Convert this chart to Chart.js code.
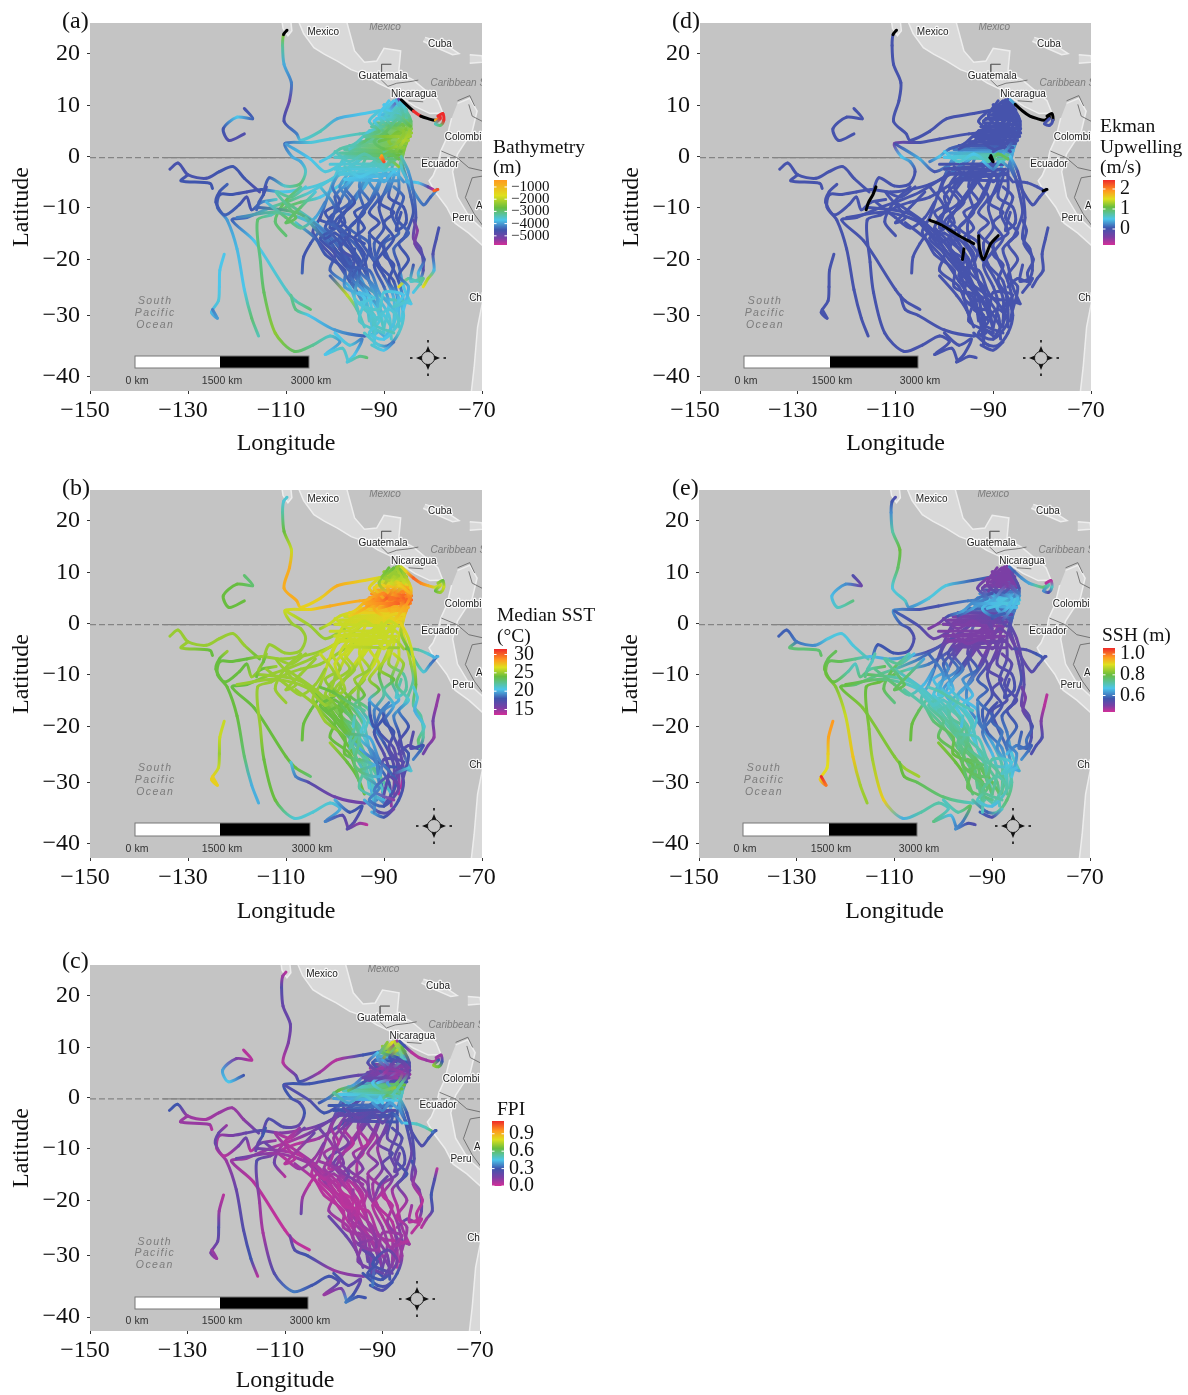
<!DOCTYPE html>
<html>
<head>
<meta charset="utf-8">
<title>Tracks</title>
<script src="https://cdn.jsdelivr.net/npm/chart.js@4/dist/chart.umd.min.js"></script>
<style>
  html, body { margin: 0; padding: 0; background: #fff; }
  body { position: relative; width: 1188px; height: 1395px; overflow: hidden; }
  canvas { position: absolute; }
</style>
</head>
<body>
<script>
const lonTicks = [-150, -130, -110, -90, -70];
const latTicks = [-40, -30, -20, -10, 0, 10, 20];

// tracks as [lon, lat]
const tracks = [
  [[-86,10],[-94,8.5],[-99.5,7.5],[-103,5],[-107,3.2],[-107.8,4.5],[-110.4,7],[-109.3,11],[-108.9,14.5],[-110.4,18],[-110.7,21.5],[-110.5,23.5],[-109.8,24.3]],
  [[-88,5],[-95,4.5],[-101,3.5],[-105,2.8],[-110.2,2.6],[-108.8,0],[-107,-1],[-106,-3],[-107.2,-5.5],[-110.3,-5.8],[-113.4,-4.2],[-114.6,-7]],
  [[-110,2.5],[-105,-.5],[-102,-3],[-98,-1]],
  [[-118.5,9.5],[-116.8,7.5],[-120,7.8],[-122.8,5.5],[-121.6,3.2],[-118.5,4.5]],
  [[-133.7,-2.5],[-132,-1.3],[-130,-3.6],[-126.3,-4.3],[-123.6,-3],[-120.8,-2],[-118.5,-4.3],[-115.4,-7]],
  [[-130,-3.6],[-131.4,-4.8],[-125.5,-5.3],[-125,-6.3]],
  [[-89,5],[-93,1],[-98,-3],[-103,-5.5],[-107,-6.5],[-111,-7],[-115,-6.5],[-118,-7],[-121,-7.5],[-123.5,-7.5],[-124,-10],[-122,-12.5],[-120,-18],[-118.5,-25.5],[-117,-30.5],[-115.6,-33.5]],
  [[-88,3],[-94,0],[-100,-4],[-105,-7],[-110,-9],[-113,-10],[-118,-12],[-121,-12.5],[-116.5,-16.5],[-110,-25.5],[-108,-27.5],[-105,-29]],
  [[-88,2],[-92,-1],[-98,-5],[-103,-8],[-107,-9],[-110,-10],[-113,-11.5],[-115.8,-12.5],[-115.2,-20.5],[-114.5,-26],[-112.2,-33],[-108.3,-36],[-104.5,-35],[-101,-33.5],[-99,-34.5],[-102,-36.5],[-98.5,-35.5],[-97.3,-37.6]],
  [[-109,-26.5],[-108,-29],[-105.4,-30],[-100,-32.5],[-94,-33.5],[-91.5,-33]],
  [[-100,-33],[-97,-35],[-94.5,-34],[-96,-36.5],[-97.5,-37.7],[-95,-36.8],[-93.5,-37]],
  [[-122.6,-19],[-123.5,-22],[-123.6,-25],[-123.8,-27.5],[-125.2,-29.5],[-124,-30.5],[-125,-29]],
  [[-106.7,-22.5],[-106.4,-19.5],[-105,-17],[-103.5,-15]],
  [[-110,-15.5],[-112.2,-12.8],[-110.3,-9],[-107,-6]],
  [[-122,-5.5],[-123.6,-7],[-124.3,-9],[-122.5,-11.5],[-119.5,-9.5],[-118,-8],[-117,-10.5],[-115,-9],[-112,-8.5]],
  [[-86.5,10.5],[-88,7],[-91,4],[-95,2],[-98,0],[-100,-4],[-101.5,-8],[-103,-12],[-104.5,-15],[-100,-20],[-97,-24],[-94,-28],[-92,-32],[-90,-33.5]],
  [[-86.5,10.5],[-87,6],[-90,3],[-93,1],[-95,-3],[-98,-7],[-100,-11],[-102,-14],[-100,-18],[-97,-21],[-96,-25],[-93,-30],[-92,-34]],
  [[-86,10],[-86,6],[-88,3],[-91,0],[-93,-4],[-96,-8],[-98,-11],[-99.5,-14],[-96,-17],[-94,-20],[-93,-24],[-91,-28],[-90,-33]],
  [[-87,10],[-87,5],[-89,2],[-91,-2],[-94,-6],[-97,-10],[-100,-13],[-97,-17],[-94,-22],[-92,-26],[-89,-30],[-88.5,-34]],
  [[-85.5,9],[-85,5],[-87,2],[-89,-1],[-91,-5],[-93,-9],[-95,-12],[-95,-16],[-93,-19],[-90,-23],[-88,-27],[-88,-32]],
  [[-86,10],[-85,6],[-86,2],[-88,-1],[-89,-5],[-91,-10],[-90,-14],[-92,-17],[-91,-21],[-88,-24],[-87,-29],[-87,-32]],
  [[-85.5,9],[-84.8,5],[-86,1],[-87,-3],[-87,-7],[-88.5,-11],[-87,-15],[-90,-17],[-89,-20],[-87,-24],[-86,-28],[-86.5,-31]],
  [[-85,8],[-85,4],[-86.5,0],[-85.5,-4],[-84.5,-8],[-84,-11],[-85,-14],[-86,-16],[-88,-18],[-87,-21],[-86,-25],[-84.5,-28]],
  [[-85,7],[-86,1],[-86.5,-2],[-85,-5],[-82,-9.5],[-80.5,-8],[-79.2,-6.5]],
  [[-85.5,-5],[-83,-5.2],[-81,-6],[-80,-6.5]],
  [[-86.5,0],[-85,-3],[-84,-7],[-83.5,-12],[-84,-16],[-82.5,-18],[-82,-22],[-83,-24],[-85,-23.5],[-87,-25]],
  [[-78.8,-14],[-79.3,-16],[-80,-19],[-79.8,-22],[-81,-23.5],[-82,-25]],
  [[-84,-12.5],[-83.2,-14.5],[-83.7,-17],[-81.8,-20],[-83,-22.5],[-82.5,-24.5]],
  [[-120,-12],[-112,-11],[-105,-13],[-100,-18],[-96,-23],[-92,-28],[-90,-32]],
  [[-110,-9],[-104,-13],[-99,-18],[-94,-25],[-90,-30],[-88.5,-32]],
  [[-116,-10],[-108,-11],[-103,-14],[-97,-20],[-93,-27],[-92,-33]],
  [[-101,-23],[-97.5,-26.5],[-95.5,-29],[-94,-32]],
  [[-104,-14],[-99,-20],[-95,-24],[-90,-27],[-86.5,-27.5],[-84.5,-28]],
  [[-94,-33],[-91,-35],[-89,-35],[-87,-33],[-86,-30],[-87,-27]],
  [[-92.5,-35],[-90,-35.8],[-88,-34.5]],
  [[-88,-4],[-89,-8],[-86,-10],[-85.5,-13],[-87.5,-14.5],[-86.5,-11]],
  [[-97,-3],[-99,-6],[-97,-9],[-101,-12],[-98,-15],[-101,-17]],
  [[-93,-3],[-95,-7],[-94,-11],[-97,-14],[-93,-17],[-94,-21]],
  [[-90,-3],[-92,-8],[-96,-13],[-99,-16],[-95,-20],[-97,-24]],
  [[-99,-3],[-100.5,-6],[-99,-9],[-102,-11],[-100,-14],[-103,-16],[-100,-19],[-101,-22],[-97,-25],[-95,-30]],
  [[-96,-3],[-98,-6],[-96,-9],[-99,-12],[-97,-15],[-99,-18],[-96,-20],[-97,-23],[-94,-26],[-93,-31]],
  [[-94,-2],[-95,-6],[-93,-9],[-96,-11],[-94,-14],[-96,-16],[-94,-19],[-95,-22],[-92,-25],[-91,-30]],
  [[-92,-2],[-93,-5],[-91,-8],[-93,-11],[-91,-13],[-93,-15],[-90,-18],[-92,-21],[-90,-25],[-89,-28],[-90,-32]],
  [[-90,-2],[-89,-6],[-91,-9],[-88,-11],[-90,-13],[-88,-16],[-90,-19],[-88,-21],[-89,-24],[-87,-27],[-88,-31]],
  [[-88,-6],[-86,-8],[-87.5,-12],[-85,-15],[-87,-17],[-85,-20],[-87,-23],[-85,-25],[-86,-29]],
  [[-108,-13],[-104,-16],[-102,-19],[-98,-22],[-98,-25],[-94,-27],[-95,-31],[-90,-33]],
  [[-106,-12],[-102,-16],[-100,-15],[-97,-18],[-95,-22],[-96,-27],[-92,-30],[-92,-35]],
  [[-102,-14],[-99,-17],[-98,-21],[-93,-22],[-91,-26],[-87.5,-30],[-90,-34]],
  [[-114,-9],[-110,-12],[-107,-14],[-104,-12],[-102,-9]],
  [[-106,-6],[-109,-8],[-112,-7],[-108,-12],[-110,-13],[-107,-10],[-104,-7]],
  [[-103,-6],[-100,-10],[-101,-14],[-98,-13],[-100,-8],[-97,-5]],
  [[-94,-29],[-91,-31],[-93,-33],[-90,-34],[-87,-31],[-89,-29],[-92,-31.5],[-88,-33]],
  [[-95,-26],[-92,-27],[-95,-28],[-91,-29],[-90,-26],[-86,-26.5],[-88,-28.5],[-85,-27.5]],
  [[-84,-21],[-84.5,-24],[-82,-23.5],[-84,-26]],
  [[-101,-1.5],[-88,-1.5],[-100,-2.5],[-87.5,-2.5],[-99,-3.5],[-87,-3.5],[-98,-4.5],[-87,-4.8]],
  [[-95,3],[-85.5,2.6],[-97,2.2],[-86,1.8],[-98,1.4],[-86.5,1],[-99,.7],[-87,.3],[-100,-.1],[-87.5,-.5]],
  [[-92,6.7],[-84.7,6.3],[-92.5,5.9],[-84.4,5.5],[-93,5.1],[-84.4,4.7],[-92.5,4.3],[-84.6,4],[-93.5,3.6],[-85,3.2]],
  [[-88.5,10.6],[-86.5,10.2],[-89.5,9.9],[-86,9.4],[-90.5,9],[-85.6,8.7],[-91,8.2],[-85.3,7.8],[-91.5,7.5],[-85,7.1]],
  [[-87.5,11.2],[-85.8,10],[-88,10.9],[-85.4,9.2],[-90,10.2],[-84.9,8]],
  [[-87,11.3],[-89,9],[-91,6],[-92,4.5],[-94,3],[-97,1.5]],
  [[-87.5,11],[-86,8],[-88,6],[-90,7.5],[-92,7],[-89,4]],
  [[-86,10],[-84.5,7],[-85,4],[-87,5],[-89,3],[-86.5,1]],
  [[-88,11],[-90,9],[-87,8],[-85,6],[-88,4],[-91,3]],
  [[-89,11],[-91,8],[-89,6],[-86,5],[-87,3],[-90,1]],
  [[-87,9.5],[-88.5,8],[-86,7],[-84.8,5],[-86,3],[-88,.5]],
  [[-90,6],[-93,5],[-96,2.5],[-99,1.5],[-101,0],[-103,-1]],
  [[-84.6,6],[-87,7.5],[-89.5,5],[-92,3],[-90,1.5],[-87.5,2]],
  [[-100,1],[-97,-1],[-94,.5],[-91,-1],[-89,.5],[-87,-.5]],
  [[-92,-1],[-90,-2.5],[-88.5,-1],[-87,-2]],
  [[-98,-2],[-95,-4],[-92,-3],[-90,-5],[-88,-3],[-86,-5]],
  [[-91,9],[-93,7],[-91,5],[-94,4],[-90,4],[-87,4]],
  [[-114,-6],[-114.6,-7.5],[-115.5,-9],[-116,-10.5]],
  [[-103,-12.5],[-100.5,-13.5],[-97,-15.5],[-94,-17]],
  [[-93,-15.5],[-92.8,-18],[-92,-20],[-90.5,-17],[-89,-15.5]],
  [[-96,-18],[-96.3,-20]],
  [[-79.8,-6.8],[-79,-6.5]],
  [[-90.7,-.2],[-90,-1],[-90.5,.2]],
  [[-86.5,11.2],[-85.5,10.3],[-84,9],[-82.5,8],[-81,7.5],[-79.5,7.2],[-78.5,7.8]],
  [[-79,8],[-78,8.5],[-77.8,7.2],[-78.5,6.2],[-79.5,6.5],[-78.5,7.5]]
];

// depth in km, null = no data (drawn black)
const depthValues = [
  [3.6,3.7,3.9,3.4,3.6,4.2,4.6,4.9,4.2,3.9,3.2,2.5,null],
  [2.9,3.4,3.6,3.6,4.3,3.9,3.9,3.5,3.0,3.5,4.4,4.6],
  [4,3.7,3.6,3.6],
  [4.6,4.4,3.7,4.5,4.7,4.7],
  [4.6,4.6,4.6,4.6,4.5,4.5,4.5,4.7],
  [4.6,4.5,4.5,4.5],
  [2.7,3.3,3.5,3.6,3.6,3.7,4.5,4.6,4.5,4.5,4.4,4.0,3.8,3.7,3.0,3.4],
  [2.6,3.5,3.6,3.6,3.0,3.4,4.3,4.4,3.7,3.5,3.4,3.0],
  [2.6,3.4,3.6,3.7,3.0,3.0,3.4,3.0,3.1,2.9,2.4,2.9,3.2,3.5,4.0,3.7,3.5,3.6],
  [3.2,3.1,3.7,4,4.4,3.8],
  [3.7,3.6,4.2,3.7,3.6,3.2,3.0],
  [3.7,3.7,3.7,3.6,3.8,4,4.2],
  [4.4,4.5,4.5,4.3],
  [3.0,3.0,2.9,3.2],
  [4.4,4.5,4.5,4.4,4.5,4.6,4.5,4.2,3.5],
  [3.7,3.5,3.0,3.3,3.5,3.6,4.1,4.5,4.6,4.6,4.4,3.5,3.5,3.9],
  [3.6,2.8,2.7,3.0,3.6,4.2,4.5,4.5,4.5,4.5,4.3,3.6,3.8],
  [3.6,2.6,2.5,3.2,3.7,4.3,4.5,4.5,4.4,4.5,4.4,3.6,3.7],
  [3.6,2.7,2.6,3.5,3.9,4.4,4.5,4.5,4.5,3.9,3.6,3.5],
  [3.4,2.4,2.6,3.3,4.0,4.4,4.5,4.4,4.5,4.5,3.8,3.5],
  [3.5,2.4,2.4,3.4,4.2,4.5,4.5,4.4,4.5,4.5,3.8,3.5],
  [3.4,2.3,2.5,3.8,4.4,4.5,4.4,4.4,4.5,4.5,3.7,3.6],
  [3.2,2.4,2.8,4.1,4.4,4.5,4.5,4.4,4.4,4.5,3.7,3.5],
  [2.9,2.5,3.5,3.9,4.3,4.4,4.0],
  [3.9,3.7,4.8,5.6],
  [3.3,4,4.3,4.6,5.1,4.8,4.7,3.6,3.3,1.5],
  [4.6,4.6,4.7,3.8,2.2,1.6],
  [4.7,5.3,5.1,4.6,3.8,3.0],
  [4.2,3.2,3.8,4.5,4.5,3.7,3.4],
  [3,3.8,4.5,4.3,3.6,3.5],
  [4.4,3.0,4.2,4.5,3.7,3.4],
  [4.4,2.0,3.3,3.5],
  [4.3,4.5,4.3,3.5,3.4,3.7],
  [3.5,3.6,4.3,3.5,3.6,3.9],
  [3.5,3.7,4.3],
  [4.0,4.5,4.5,4.5,4.5,4.5],
  [3.6,4.1,4.4,4.5,4.4,4.5],
  [3.6,4.3,4.5,4.4,4.4,4.5],
  [3.7,4.4,4.5,4.4,4.5,4.4],
  [3.6,4.2,4.5,4.5,4.4,4.5,4.6,4.4,3.8,3.4],
  [3.6,4.2,4.5,4.5,4.5,4.6,4.6,4.4,3.9,3.5],
  [3.6,4.2,4.4,4.5,4.5,4.5,4.5,4.4,4.1,3.6],
  [3.6,4.0,4.4,4.5,4.5,4.5,4.5,4.5,4.4,3.7,3.5],
  [3.5,4.2,4.5,4.5,4.5,4.5,4.5,4.5,4.5,3.8,3.6],
  [4.2,4.4,4.5,4.4,4.5,4.5,4.5,3.9,3.7],
  [3.5,4.4,4.5,4.5,4.0,3.7,3.5,3.5],
  [3.3,4.5,4.5,4.5,4.5,3.6,3.5,3.6],
  [4.4,4.5,4.5,4.4,4,3.6,3.8],
  [3.8,3,3.2,3.9,4.2],
  [3.6,3.1,3.4,2.9,2.9,3,3.6],
  [3.6,4.4,4.5,4.5,4.4,3.8],
  [3.5,3.6,3.6,3.7,3.5,3.6,3.5,3.4],
  [3.8,3.6,3.6,3.5,3.6,3.7,3.5,3.6],
  [4.5,3.5,3.2,3.7],
  [3.6,3.4,3.6,3.6,3.6,3.9,3.7,4.1],
  [3.3,2.4,3.3,2.4,3.3,2.6,3.3,2.7,3.5,3.0],
  [3.2,2.6,3.2,2.4,3.3,2.3,3.2,2.3,3.3,2.2],
  [4.0,3.7,3.8,3.7,3.7,3.5,3.8,3.3,3.7,3.1],
  [3.9,3.5,3.8,3.3,3.7,3.2],
  [5,3.7,3.2,3.0,3.0,3.5],
  [3.8,3.2,2.9,3.6,3.7,2.7],
  [3.6,3.0,2.2,2.6,2.4,2.7],
  [3.7,3.6,3.3,2.5,2.5,2.8],
  [3.7,3.7,3.0,2.4,2.3,3.2],
  [3.4,3.5,3.1,2.3,2.1,2.8],
  [3.2,3.6,3.4,3.3,3.6,3.7],
  [2.7,3.3,2.9,3.0,2.8,2.3],
  [3.4,3.5,3.3,3.3,2.9,2.8],
  [3.4,3.5,3.1,2.4],
  [3.5,3.7,3.6,3.9,3.7,4.1],
  [3.6,3.6,3.0,3.3,2.5,2.3],
  [4.6,4.5,4.4,4.4],
  [4.5,4.4,4.5,4.5],
  [4.4,4.5,4.4,4.5,4.4],
  [4.5,4.5],
  [.3,.2],
  [.4,.2,.5],
  [5,null,.1,.1,null,.8,.1],
  [.1,.1,.1,3.0,3.4,.1]
];

const sstValues = [
  [26,27,28,27,27,28,28,28,26,24,22,21,21],
  [29,28,28,27,26,25,25,25,25,25,25,25],
  [26,25,25,25],
  [23,23,24,24,24,24],
  [25,25,25,25,25,25,25,24],
  [25,25,24,24],
  [29,26,25,25,25,25,25,24,24,24,24,24,24,23,20,20],
  [28,26,26,25,25,25,24,24,24,24,24,23],
  [28,26,25,25,25,25,25,25,25,24,24,21,21,21,20,19,17,16],
  [21,19,17,16,16,19],
  [20,18,18,17,17,15,14],
  [26,26,25,26,27,27,27],
  [24,24,24,24],
  [25,25,25,25],
  [25,24,24,24,24,24,25,24,25],
  [25,28,29,27,26,26,26,25,25,24,24,23,21,19],
  [25,29,28,27,26,26,25,25,24,23,22,20,20],
  [25,29,28,26,26,26,25,25,23,22,20,19,18],
  [25,29,27,26,26,25,25,24,21,19,18,15],
  [25,29,27,26,26,25,25,23,20,18,17,15],
  [25,29,28,26,26,24,22,19,18,17,16,14],
  [25,29,27,26,26,23,20,19,18,17,16,14],
  [26,29,27,26,25,22,22,21,19,18,17,21],
  [29,27,25,24,21,19,18],
  [24,22,21,20],
  [27,26,26,24,22,22,22,18,17,17],
  [15,15,16,15,16,16],
  [21,21,20,21,23,22],
  [25,25,25,24,24,22,21],
  [25,25,24,23,22,20],
  [25,25,25,23,22,21],
  [25,24,24,24],
  [24,24,20,18,18,21],
  [20,17,17,18,17,17],
  [20,18,16],
  [26,25,22,22,21,22],
  [26,26,25,25,24,24],
  [26,26,25,24,22,21],
  [26,26,25,24,22,22],
  [26,26,25,25,24,24,24,24,24,23],
  [26,26,25,25,24,24,22,22,22,21],
  [26,26,25,25,24,22,21,21,19,19],
  [26,26,26,25,24,20,18,18,17,17,17],
  [26,26,25,24,22,20,18,18,17,17,16],
  [26,25,23,21,19,18,17,18,17],
  [25,25,25,24,24,22,22,20],
  [25,25,24,23,22,23,21,19],
  [25,24,24,20,19,18,17],
  [25,25,25,25,25],
  [25,25,25,25,25,25,25],
  [26,25,25,25,26,26],
  [22,19,19,18,16,17,19,15],
  [23,20,23,20,17,17,17,21],
  [17,17,18,19],
  [26,26,26,26,26,26,26,25],
  [27,28,27,27,26,27,26,27,26,26],
  [28,29,29,30,29,30,29,29,28,28],
  [24,25,25,25,25,26,26,27,27,28],
  [24,25,24,25,25,26],
  [25,25,28,29,28,27],
  [25,26,29,27,27,29],
  [25,27,30,30,28,27],
  [24,25,27,29,30,28],
  [24,25,28,30,28,27],
  [25,26,28,29,28,27],
  [29,28,27,26,26,25],
  [28,27,30,28,27,27],
  [26,26,26,26,26,26],
  [26,26,26,26],
  [26,26,26,26,26,25],
  [26,27,29,28,29,30],
  [25,24,25,24],
  [24,24,23,22],
  [19,18,18,19,19],
  [22,21],
  [20,20],
  [26,26,26],
  [26,27,30,29,28,26,26],
  [25,24,26,25,24,26]
];

const fpiValues = [
  [.3,.3,.05,.1,.3,.2,.05,.15,.2,.2,.25,.1,.05],
  [.2,.2,.3,.3,.3,.3,.25,.3,.2,.25,.25,.2],
  [.25,.25,.3,.25],
  [.05,.05,.15,.4,.45,.3],
  [.3,.3,.1,.08,.1,.1,.12,.2],
  [.1,.1,.1,.05],
  [.15,.3,.3,.2,.1,.15,.25,.2,.15,.1,.05,.1,.2,.25,.3,.05],
  [.5,.25,.2,.15,.05,.1,.1,.1,.05,.03,.05,.03],
  [.4,.3,.3,.1,.05,.05,.15,.25,.1,.08,.25,.35,.3,.3,.25,.1,.15,.4],
  [.15,.25,.3,.1,.15,.25],
  [.3,.25,.2,.3,.35,.3,.3],
  [.05,.1,.25,.2,.15,.1,.1],
  [.2,.1,.05,.05],
  [.05,.2,.05,.1],
  [.1,.2,.2,.05,.15,.2,.05,.2,.1],
  [.6,.25,.15,.2,.35,.2,.1,.1,.05,.04,.05,.1,.3,.3],
  [.55,.2,.5,.4,.2,.1,.05,.1,.05,.05,.08,.2,.3],
  [.5,.2,.55,.35,.2,.08,.1,.15,.05,.05,.1,.1,.25],
  [.6,.15,.5,.3,.15,.1,.2,.05,.05,.1,.15,.3],
  [.5,.15,.55,.35,.15,.1,.05,.1,.1,.05,.08,.1],
  [.55,.2,.55,.45,.2,.1,.15,.1,.05,.05,.1,.05],
  [.5,.2,.5,.3,.2,.2,.2,.1,.05,.1,.2,.05],
  [.4,.2,.5,.3,.25,.2,.2,.25,.1,.05,.1,.05],
  [.2,.5,.4,.3,.25,.3,.3],
  [.45,.5,.5,.6],
  [.5,.3,.25,.25,.15,.15,.2,.05,.2,.1],
  [.05,.25,.3,.25,.1,.05],
  [.3,.15,.1,.05,.05,.05],
  [.2,.1,.1,.05,.05,.1,.15],
  [.05,.1,.05,.05,.1,.2],
  [.2,.05,.08,.05,.08,.2],
  [.2,.2,.15,.2],
  [.15,.05,.1,.08,.05,.1],
  [.3,.3,.25,.3,.1,.1],
  [.3,.25,.3],
  [.3,.2,.25,.25,.2,.2],
  [.2,.1,.15,.2,.1,.05],
  [.25,.1,.05,.15,.1,.05],
  [.3,.08,.15,.1,.05,.08],
  [.2,.1,.05,.1,.15,.05,.05,.1,.08,.15],
  [.25,.1,.05,.1,.2,.05,.03,.08,.1,.2],
  [.3,.1,.05,.1,.15,.1,.05,.05,.1,.15],
  [.3,.2,.1,.1,.15,.1,.08,.05,.1,.1,.2],
  [.3,.2,.15,.25,.2,.15,.05,.05,.1,.15,.1],
  [.25,.25,.2,.3,.2,.1,.05,.1,.1],
  [.1,.05,.05,.05,.08,.1,.15,.2],
  [.1,.05,.1,.05,.05,.1,.2,.35],
  [.1,.05,.04,.05,.08,.1,.25],
  [.2,.05,.1,.1,.15],
  [.2,.05,.1,.05,.05,.1,.2],
  [.2,.1,.05,.15,.1,.2],
  [.2,.25,.3,.3,.15,.2,.3,.2],
  [.1,.1,.15,.1,.1,.1,.1,.05],
  [.1,.05,.05,.05],
  [.3,.35,.3,.25,.2,.3,.2,.3],
  [.4,.65,.45,.65,.5,.6,.45,.5,.4,.45],
  [.15,.15,.1,.2,.15,.1,.15,.2,.2,.3],
  [.8,.7,.65,.75,.6,.7,.4,.5,.3,.3],
  [.8,.6,.8,.6,.7,.4],
  [.1,.7,.2,.15,.3,.6],
  [.75,.5,.15,.4,.3,.15],
  [.65,.25,.2,.1,.4,.55],
  [.8,.6,.3,.15,.1,.45],
  [.7,.4,.15,.1,.6,.55],
  [.75,.3,.2,.15,.55,.5],
  [.1,.2,.4,.65,.35,.3],
  [.15,.25,.1,.45,.55,.7],
  [.55,.4,.5,.45,.6,.45],
  [.4,.35,.4,.4],
  [.25,.2,.25,.2,.3,.4],
  [.45,.25,.15,.2,.2,.1],
  [.3,.3,.2,.2],
  [.1,.1,.15,.1],
  [.1,.15,.1,.2,.2],
  [.1,.05],
  [.35,.3],
  [.45,.45,.45],
  [.3,.3,.05,.05,.1,.05,.1],
  [.1,.1,.3,.65,.7,.3]
];

const ekmanValues = [
  [0,0,0,0,0,0,0,0,0,0,0,0,null],
  [0,0,0,0,-.3,.5,.3,0,0,0,0,0],
  [0,.4,0,.3],
  [0,0,0,0,0,0],
  [0,0,0,0,0,0,0,0],
  [0,0,0,0],
  [0,.3,0,0,0,0,0,0,0,0,0,0,0,0,0,0],
  [0,.5,0,0,0,0,0,0,0,0,0,0],
  [0,.4,0,0,0,0,0,0,0,0,0,0,0,0,0,0,0,0],
  [0,0,0,0,0,0],
  [0,0,0,0,0,0,0],
  [0,0,0,0,0,0,0],
  [0,0,0,0],
  [0,0,0,0],
  [0,0,0,0,0,0,0,0,0],
  [0,0,0,0,.4,0,0,0,0,0,0,0,0,0],
  [0,0,0,.3,0,0,0,0,0,0,0,0,0],
  [0,0,0,.5,0,0,0,0,0,0,0,0,0],
  [0,0,0,0,0,0,0,0,0,0,0,0],
  [0,0,0,.4,0,0,0,0,0,0,0,0],
  [0,0,0,.5,0,0,0,0,0,0,0,0],
  [0,0,.4,0,0,0,0,0,0,0,0,0],
  [0,0,.6,0,0,0,0,0,0,0,0,0],
  [0,.4,.2,0,0,0,0],
  [0,0,0,0],
  [.5,0,0,0,0,0,0,0,0,0],
  [0,0,0,0,0,0],
  [0,0,0,0,0,0],
  [0,0,0,0,0,0,0],
  [0,0,0,0,0,0],
  [0,0,0,0,0,0],
  [0,0,0,0],
  [0,0,0,0,0,0],
  [0,0,0,0,0,0],
  [0,0,0],
  [0,0,0,0,0,0],
  [0,0,0,0,0,0],
  [0,0,0,0,0,0],
  [0,0,0,0,0,0],
  [0,0,0,0,0,0,0,0,0,0],
  [0,0,0,0,0,0,0,0,0,0],
  [0,0,0,0,0,0,0,0,0,0],
  [0,0,0,0,0,0,0,0,0,0,0],
  [0,0,0,0,0,0,0,0,0,0,0],
  [0,0,0,0,0,0,0,0,0],
  [0,0,0,0,0,0,0,0],
  [0,0,0,0,0,0,0,0],
  [0,0,0,0,0,0,0],
  [0,0,0,0,0],
  [0,0,0,0,0,0,0],
  [0,0,0,0,0,0],
  [0,0,0,0,0,0,0,0],
  [0,0,0,0,0,0,0,0],
  [0,0,0,0],
  [0,0,0,0,0,0,0,0],
  [0,0,0,.1,.2,.3,.4,.8,.5,.8],
  [0,0,0,0,0,0,0,0,0,0],
  [0,0,0,0,0,0,0,0,0,0],
  [0,0,0,0,0,0],
  [0,0,0,0,0,0],
  [0,0,0,0,0,0],
  [0,0,0,0,0,0],
  [0,0,0,0,0,0],
  [0,0,0,0,0,0],
  [0,0,0,0,0,.4],
  [0,0,0,.1,.5,.2],
  [0,0,0,0,0,0],
  [.5,.6,.5,.7,1,1],
  [.5,.2,.6,.2],
  [0,0,0,0,0,0],
  [0,0,0,0,0,0],
  [null,null,null,null],
  [null,null,null,null],
  [null,null,null,null,null],
  [null,null],
  [null,null],
  [null,null,null],
  [.4,.3,null,null,null,null,0],
  [0,null,0,0,0,0]
];

const sshValues = [
  [.58,.58,.68,.68,.62,.7,.68,.77,.8,.72,.62,.57,.55],
  [.66,.6,.56,.56,.62,.58,.56,.55,.56,.57,.57,.62],
  [.58,.55,.52,.52],
  [.55,.52,.62,.66,.7,.75],
  [.58,.58,.6,.62,.68,.68,.68,.72],
  [.6,.76,.76,.77],
  [.56,.5,.52,.55,.62,.64,.66,.74,.78,.78,.82,.82,.88,.93,.85,.84],
  [.55,.52,.55,.6,.72,.74,.76,.8,.82,.82,.84,.85],
  [.55,.5,.54,.6,.7,.78,.8,.8,.82,.85,.92,.65,.72,.72,.7,.75,.66,.6],
  [.8,.8,.78,.76,.7,.72],
  [.7,.72,.78,.6,.62,.56,.55],
  [.97,.96,.92,.9,.92,1,1.06],
  [.8,.8,.78,.72],
  [.75,.78,.78,.7],
  [.78,.78,.8,.8,.72,.7,.75,.72,.78],
  [.52,.5,.6,.62,.52,.52,.58,.64,.72,.74,.76,.75,.74,.72],
  [.52,.62,.66,.6,.5,.54,.62,.68,.72,.74,.75,.76,.7],
  [.52,.64,.66,.52,.5,.56,.62,.66,.7,.7,.7,.72,.7],
  [.52,.64,.6,.5,.52,.58,.64,.68,.68,.7,.75,.7],
  [.52,.64,.62,.5,.5,.54,.6,.64,.6,.64,.72,.76],
  [.52,.62,.6,.5,.52,.55,.56,.58,.58,.62,.7,.74],
  [.52,.66,.58,.52,.54,.56,.55,.56,.56,.6,.68,.72],
  [.52,.64,.55,.52,.54,.56,.55,.56,.58,.6,.68,.72],
  [.66,.58,.52,.52,.54,.55,.58],
  [.55,.55,.57,.58],
  [.55,.52,.54,.54,.52,.54,.55,.58,.6,.66],
  [.46,.46,.5,.55,.56,.55],
  [.52,.5,.52,.56,.6,.56],
  [.8,.75,.68,.72,.76,.78,.76],
  [.72,.66,.72,.76,.78,.76],
  [.78,.7,.7,.72,.78,.74],
  [.82,.8,.8,.75],
  [.7,.72,.74,.72,.66,.64],
  [.72,.58,.72,.76,.72,.7],
  [.58,.55,.7],
  [.52,.54,.55,.56,.56,.55],
  [.5,.56,.6,.66,.7,.72],
  [.5,.55,.6,.66,.66,.7],
  [.5,.54,.64,.7,.72,.74],
  [.5,.56,.62,.66,.7,.72,.74,.78,.78,.76],
  [.5,.54,.6,.66,.7,.72,.74,.74,.76,.74],
  [.5,.54,.58,.62,.66,.68,.7,.72,.72,.74],
  [.5,.52,.54,.58,.58,.6,.58,.6,.66,.72,.74],
  [.5,.52,.54,.54,.55,.56,.58,.6,.62,.68,.72],
  [.52,.54,.55,.55,.56,.58,.6,.62,.68],
  [.72,.72,.76,.78,.8,.78,.78,.74],
  [.7,.7,.7,.72,.74,.78,.78,.7],
  [.68,.72,.74,.7,.72,.74,.7],
  [.74,.76,.72,.66,.62],
  [.66,.74,.72,.78,.78,.76,.64],
  [.58,.62,.68,.66,.58,.52],
  [.76,.76,.7,.66,.72,.72,.74,.72],
  [.78,.76,.78,.76,.72,.68,.7,.66],
  [.58,.6,.58,.62],
  [.5,.5,.5,.5,.5,.52,.52,.52],
  [.58,.6,.52,.54,.5,.54,.5,.52,.5,.5],
  [.56,.6,.62,.64,.66,.68,.66,.68,.62,.66],
  [.5,.5,.5,.5,.5,.5,.5,.5,.5,.5],
  [.5,.5,.5,.5,.5,.5],
  [.5,.5,.52,.62,.64,.56],
  [.5,.5,.58,.5,.52,.66],
  [.52,.56,.68,.68,.66,.58],
  [.5,.5,.5,.6,.68,.66],
  [.5,.5,.56,.66,.66,.56],
  [.5,.5,.52,.66,.66,.54],
  [.56,.6,.64,.56,.5,.5],
  [.6,.5,.64,.66,.58,.58],
  [.52,.5,.5,.5,.52,.54],
  [.5,.5,.52,.52],
  [.5,.5,.5,.52,.52,.52],
  [.5,.52,.6,.62,.66,.68],
  [.72,.7,.72,.75],
  [.7,.72,.72,.7],
  [.62,.6,.6,.56,.56],
  [.7,.66],
  [.56,.56],
  [.52,.52,.52],
  [.6,.58,.62,.64,.72,.76,.7],
  [.46,.46,.7,.55,.62,.72]
];

// colour scales, high to low
const rainbow = ['#ee2a2a', '#ff9a1f', '#dfe01e', '#68bd3f', '#4cc6ea', '#3f55ad', '#7b3fa5', '#d22f98'];
const bathyStops = [-.1, -.43, -1.7, -2.7, -3.7, -4.5, -5.2, -5.75];
const sstStops = [31.5, 28.5, 26.5, 24, 20.5, 18, 15.5, 13.5];
const fpiStops = [1.12, .95, .8, .65, .45, .3, .15, 0];
const ekmanStops = [2.45, 1.9, 1.5, 1.1, .5, .05, -.4, -.8];
const sshStops = [1.06, .97, .9, .8, .67, .57, .5, .44];

// land as [lon, lat] outlines
const landRelief = [
  [[-110.8,25.8],[-110.6,24.6],[-109.6,23.3],[-108.8,24.2],[-109,25.8]],
  [[-107.4,25.8],[-106.4,23.7],[-104.3,21.1],[-102.2,19.9],[-99.5,18.6],[-96.7,17],[-94,16.1],[-91.2,14.4],[-88.5,13.2],[-86.7,11.8],[-83.7,9.9],[-80.6,8.5],[-78,8.6],[-79,11],[-84,15],[-87,16.5],[-86.6,20.5],[-90,21],[-91.5,18.6],[-94,18.4],[-96,20.5],[-97.6,25.8]],
  [[-76.2,7.6],[-77.2,3.7],[-78.4,1.1],[-79,-1.5],[-80,-3.8],[-80.8,-4.8],[-79.7,-6.8],[-77.2,-10],[-75.5,-13.1],[-72.7,-15],[-69.5,-17.7],[-69,-15],[-72.5,-12],[-75,-8],[-76,-3],[-75,.5],[-72,5],[-71,9],[-72.5,11.5],[-75,10.5]],
  [[-69.8,-27.3],[-70.9,-32],[-71.6,-38.5],[-72.3,-43],[-69.9,-43],[-69.4,-33],[-69.4,-26]],
  [[-81.6,23],[-78,22],[-74.7,20],[-76,19.8],[-79,21],[-82,22.3]],
  [[-72.5,19.8],[-70,19.6],[-69.8,18.4],[-72.5,18.2]]
];
const borderLines = [
  [[-90.5,18],[-88.5,18],[-90.5,18],[-90.5,15],[-89.2,13.8],[-87.4,14.4],[-84.7,14.7],[-83,15]],
  [[-85,11],[-82,10.8]],
  [[-78.3,1.1],[-75.1,-.2],[-72.7,-2.2],[-69.5,-2.9]],
  [[-69.5,-3.8],[-72,-4.2],[-73.4,-8.1],[-71.6,-11.3],[-69.5,-14]],
  [[-72.7,10.3],[-72,8],[-70,7]],
  [[-75,11],[-72.5,12],[-71.5,10]]
];
const equatorSolid = [[-135,-.2],[-90,-.2]];
const equatorDashed = [[-150,-.2],[-70,-.2]];

// basemap names with [lon, lat]
const placeNames = ['Mexico', 'Cuba', 'Guatemala', 'Nicaragua', 'Colombia', 'Ecuador', 'Peru', 'Chile', 'AC'];
const placeCoords = [[-102.4,24], [-78.6,21.8], [-90.2,15.7], [-83.9,12.2], [-73.3,3.8], [-78.6,-1.5], [-73.9,-12.2], [-70.3,-27], [-69.8,-9.8]];
const italicNames = ['Mexico', 'Caribbean Sea'];
const italicCoords = [[-89.8,24.8], [-73.7,14.4]];
const oceanNames = ['South', 'Pacific', 'Ocean'];
const oceanCoords = [[-136.7,-27.6], [-136.7,-29.6], [-136.7,-31.6]];
const scaleLabels = ['0 km', '1500 km', '3000 km'];

const panels = [
  { letter: '(a)', box: [0, 0, 610, 460], plot: [90, 482, 23, 391], letterAt: [62, 22], series: depthValues.map(t => t.map(v => (v === null ? null : -v))), stops: bathyStops,
    xPad: 2, scaleBar: [135, 220, 309, 356, 368, 381], compass: [428, 358],
    legendTitle: ['Bathymetry', '(m)'], titleAt: [493, 148], titleStep: 20, bar: [494, 507, 180, 245], barRange: [-.43, -5.75],
    legendValues: [-1, -2, -3, -4, -5], legendText: ['−1000', '−2000', '−3000', '−4000', '−5000'], legendFont: 15, legendX: 511 },
  { letter: '(b)', box: [0, 468, 610, 460], plot: [90, 482, 490, 858], letterAt: [62, 489], series: sstValues, stops: sstStops,
    xPad: 2, scaleBar: [135, 220, 310, 823, 836, 849], compass: [434, 826],
    legendTitle: ['Median SST', '(°C)'], titleAt: [497, 616], titleStep: 21, bar: [494, 507, 649, 715], barRange: [31.5, 13.5],
    legendValues: [30, 25, 20, 15], legendText: ['30', '25', '20', '15'], legendFont: 20, legendX: 514 },
  { letter: '(c)', box: [0, 938, 610, 457], plot: [90, 480, 965, 1331], letterAt: [62, 962], series: fpiValues, stops: fpiStops,
    xPad: 0, scaleBar: [135, 220, 308, 1297, 1309, 1321], compass: [417, 1299],
    legendTitle: ['FPI'], titleAt: [497, 1110], titleStep: 20, bar: [492, 504, 1121, 1186], barRange: [1.12, 0],
    legendValues: [.9, .6, .3, 0], legendText: ['0.9', '0.6', '0.3', '0.0'], legendFont: 20, legendX: 509 },
  { letter: '(d)', box: [610, 0, 578, 460], plot: [700, 1091, 23, 391], letterAt: [672, 22], series: ekmanValues, stops: ekmanStops,
    xPad: 2, scaleBar: [744, 830, 918, 356, 368, 381], compass: [1041, 358],
    legendTitle: ['Ekman', 'Upwelling', '(m/s)'], titleAt: [1100, 127], titleStep: 20.5, bar: [1103, 1115, 180, 245], barRange: [2.45, -.8],
    legendValues: [2, 1, 0], legendText: ['2', '1', '0'], legendFont: 20, legendX: 1120 },
  { letter: '(e)', box: [609, 468, 579, 460], plot: [699, 1090, 490, 858], letterAt: [672, 489], series: sshValues, stops: sshStops,
    xPad: 2, scaleBar: [743, 829, 917, 823, 836, 849], compass: [1013, 826],
    legendTitle: ['SSH (m)'], titleAt: [1102, 636], titleStep: 20, bar: [1103, 1115, 648, 712], barRange: [1.06, .44],
    legendValues: [1, .8, .6], legendText: ['1.0', '0.8', '0.6'], legendFont: 20, legendX: 1120 }
];

const SERIF = '"Liberation Serif", "DejaVu Serif", serif';
const SANS = '"Liberation Sans", Arial, sans-serif';

function merc(lat) {
  return 180 / Math.PI * Math.log(Math.tan(Math.PI / 4 + lat * Math.PI / 360));
}

// the basemap is Web Mercator, so latitude ticks are not evenly spaced
class MercatorScale extends Chart.LinearScale {
  getPixelForValue(value) {
    const lo = merc(this.min), hi = merc(this.max);
    return this.getPixelForDecimal((merc(value) - lo) / (hi - lo));
  }
  getValueForPixel(pixel) {
    const lo = merc(this.min), hi = merc(this.max);
    const m = lo + this.getDecimalForPixel(pixel) * (hi - lo);
    return (Math.atan(Math.exp(m * Math.PI / 180)) - Math.PI / 4) * 360 / Math.PI;
  }
}
MercatorScale.id = 'mercator';
MercatorScale.defaults = Chart.LinearScale.defaults;
Chart.register(MercatorScale);

function hexToRgb(hex) {
  return [1, 3, 5].map(i => parseInt(hex.slice(i, i + 2), 16));
}

function colorFor(value, stops) {
  if (value === null) return '#000000';
  if (value >= stops[0]) return rainbow[0];
  for (let i = 1; i < stops.length; i++) {
    if (value >= stops[i]) {
      const t = (value - stops[i]) / (stops[i - 1] - stops[i]);
      const a = hexToRgb(rainbow[i]), b = hexToRgb(rainbow[i - 1]);
      return `rgb(${a.map((c, k) => Math.round(c + (b[k] - c) * t)).join(',')})`;
    }
  }
  return rainbow[rainbow.length - 1];
}

function toPoints(list) {
  return list.map(p => ({ x: p[0], y: p[1] }));
}

function mapDatasets(count) {
  const sets = landRelief.map(shape => ({
    data: toPoints(shape), fill: 'shape', backgroundColor: '#d9d9d9', borderColor: '#ededed',
    borderWidth: 1.5, pointRadius: 0, order: count + 30
  }));
  borderLines.forEach(line => sets.push({
    data: toPoints(line), borderColor: '#606060', borderWidth: 0.8, pointRadius: 0, order: count + 20
  }));
  sets.push({ data: toPoints(equatorDashed), borderColor: '#848484', borderWidth: 1.2, borderDash: [6, 3], pointRadius: 0, order: count + 12 });
  sets.push({ id: 'equator', data: toPoints(equatorSolid), borderColor: '#848484', borderWidth: 1.2, pointRadius: 0, order: count + 11 });
  return sets;
}

function trackDatasets(panel, ctx) {
  return tracks.map((track, i) => {
    const values = panel.series[i];
    const valueAt = k => (k < values.length ? values[k] : values[values.length - 1]);
    return {
      data: toPoints(track),
      borderWidth: 3,
      borderCapStyle: 'round',
      borderJoinStyle: 'round',
      tension: 0.3,
      pointRadius: 0,
      order: tracks.length - i,
      borderColor: colorFor(valueAt(0), panel.stops),
      segment: {
        borderColor: c => {
          const a = valueAt(c.p0DataIndex), b = valueAt(c.p1DataIndex);
          if (a === null || b === null) return '#000000';
          const g = ctx.createLinearGradient(c.p0.x, c.p0.y, c.p1.x, c.p1.y);
          g.addColorStop(0, colorFor(a, panel.stops));
          g.addColorStop(1, colorFor(b, panel.stops));
          return g;
        }
      }
    };
  });
}

function drawPlaces(chart) {
  const { ctx, chartArea: area, scales: { x, y } } = chart;
  ctx.save();
  ctx.beginPath();
  ctx.rect(area.left, area.top, area.width, area.height);
  ctx.clip();
  ctx.textAlign = 'center';
  ctx.textBaseline = 'middle';
  ctx.lineJoin = 'round';
  ctx.font = `10px ${SANS}`;
  placeNames.forEach((name, i) => {
    const px = x.getPixelForValue(placeCoords[i][0]), py = y.getPixelForValue(placeCoords[i][1]);
    ctx.strokeStyle = 'rgba(255,255,255,0.85)';
    ctx.lineWidth = 2.5;
    ctx.strokeText(name, px, py);
    ctx.fillStyle = '#222';
    ctx.fillText(name, px, py);
  });
  ctx.font = `italic 10px ${SANS}`;
  ctx.fillStyle = '#7c7c7c';
  italicNames.forEach((name, i) => {
    ctx.fillText(name, x.getPixelForValue(italicCoords[i][0]), y.getPixelForValue(italicCoords[i][1]));
  });
  ctx.font = `italic 10.5px ${SANS}`;
  ctx.letterSpacing = '1.4px';
  oceanNames.forEach((name, i) => {
    ctx.fillText(name, x.getPixelForValue(oceanCoords[i][0]), y.getPixelForValue(oceanCoords[i][1]));
  });
  ctx.restore();
}

function drawScaleBar(ctx, panel) {
  const [dx, dy] = panel.box;
  const [x0, x1, x2, top, bottom, textY] = panel.scaleBar;
  ctx.fillStyle = '#fff';
  ctx.fillRect(x0 - dx, top - dy, x1 - x0, bottom - top);
  ctx.fillStyle = '#000';
  ctx.fillRect(x1 - dx, top - dy, x2 - x1, bottom - top);
  ctx.strokeStyle = '#777';
  ctx.lineWidth = 1;
  ctx.strokeRect(x0 - dx, top - dy, x2 - x0, bottom - top);
  ctx.font = `10.5px ${SANS}`;
  ctx.fillStyle = '#333';
  ctx.textAlign = 'center';
  ctx.textBaseline = 'middle';
  [x0, x1, x2].forEach((bx, i) => {
    ctx.fillText(scaleLabels[i], bx - dx + 2, textY - dy);
  });
}

function drawCompass(ctx, panel) {
  const cx = panel.compass[0] - panel.box[0], cy = panel.compass[1] - panel.box[1];
  ctx.save();
  ctx.translate(cx, cy);
  ctx.strokeStyle = '#222';
  ctx.lineWidth = 1;
  for (let i = 0; i < 4; i++) {
    ctx.fillStyle = '#111';
    ctx.beginPath();
    ctx.moveTo(-2.5, -6);
    ctx.lineTo(2.5, -6);
    ctx.lineTo(0, -12);
    ctx.closePath();
    ctx.fill();
    ctx.fillRect(-0.8, -18, 1.6, 2.5);
    ctx.rotate(Math.PI / 2);
  }
  ctx.beginPath();
  ctx.arc(0, 0, 6.5, 0, Math.PI * 2);
  ctx.stroke();
  ctx.restore();
}

function drawLegend(ctx, panel) {
  const [dx, dy] = panel.box;
  const [l, r, t, b] = panel.bar;
  const [hi, lo] = panel.barRange;
  for (let y = t; y < b; y++) {
    ctx.fillStyle = colorFor(hi + (lo - hi) * (y - t + 0.5) / (b - t), panel.stops);
    ctx.fillRect(l - dx, y - dy, r - l, 1);
  }
  ctx.textBaseline = 'middle';
  ctx.textAlign = 'left';
  ctx.fillStyle = '#111';
  ctx.font = `19.5px ${SERIF}`;
  panel.legendTitle.forEach((line, i) => {
    ctx.fillText(line, panel.titleAt[0] - dx, panel.titleAt[1] + i * panel.titleStep - dy);
  });
  ctx.font = `${panel.legendFont}px ${SERIF}`;
  panel.legendValues.forEach((v, i) => {
    const y = t + (v - hi) / (lo - hi) * (b - t) - dy;
    ctx.fillStyle = '#fff';
    ctx.fillRect(l - dx, y - 0.5, 2.5, 1);
    ctx.fillRect(r - dx - 2.5, y - 0.5, 2.5, 1);
    ctx.fillStyle = '#111';
    ctx.fillText(panel.legendText[i], panel.legendX - dx, y);
  });
}

function panelPlugin(panel) {
  return {
    id: 'panelExtras',
    beforeDatasetsDraw(chart) {
      const { ctx, chartArea: a } = chart;
      ctx.fillStyle = '#c4c4c4';
      ctx.fillRect(a.left, a.top, a.width, a.height);
    },
    afterDatasetDraw(chart, args) {
      if (chart.data.datasets[args.index].id === 'equator') drawPlaces(chart);
    },
    afterDraw(chart) {
      const ctx = chart.ctx;
      drawScaleBar(ctx, panel);
      drawCompass(ctx, panel);
      drawLegend(ctx, panel);
      ctx.fillStyle = '#111';
      ctx.font = `24px ${SERIF}`;
      ctx.textAlign = 'left';
      ctx.textBaseline = 'middle';
      ctx.fillText(panel.letter, panel.letterAt[0] - panel.box[0], panel.letterAt[1] - panel.box[1]);
    }
  };
}

function minusLabel(value) {
  return value < 0 ? '−' + Math.abs(value) : String(value);
}

function buildPanel(panel) {
  const [left, top, width, height] = panel.box;
  const [pl, pr, pt, pb] = panel.plot;
  const canvas = document.createElement('canvas');
  canvas.width = width;
  canvas.height = height;
  canvas.style.left = left + 'px';
  canvas.style.top = top + 'px';
  canvas.style.width = width + 'px';
  canvas.style.height = height + 'px';
  document.body.appendChild(canvas);
  const ctx = canvas.getContext('2d');

  const tickFont = { family: SERIF, size: 24 };
  const grid = { drawOnChartArea: false, drawTicks: true, tickLength: 3, color: '#333', lineWidth: 1 };

  new Chart(ctx, {
    type: 'line',
    data: { datasets: mapDatasets(tracks.length).concat(trackDatasets(panel, ctx)) },
    options: {
      responsive: false,
      animation: false,
      devicePixelRatio: 1,
      layout: { padding: { left: 0, top: pt - top, right: left + width - pr, bottom: 0 } },
      plugins: { legend: { display: false }, tooltip: { enabled: false } },
      scales: {
        x: {
          type: 'linear',
          min: -150,
          max: -70,
          afterBuildTicks: s => { s.ticks = lonTicks.map(value => ({ value })); },
          afterFit: s => { s.height = top + height - pb; },
          ticks: { font: tickFont, color: '#111', padding: 2, labelOffset: -5, maxRotation: 0, autoSkip: false, callback: minusLabel },
          grid,
          border: { display: false },
          title: { display: true, text: 'Longitude', color: '#111', font: tickFont, padding: { top: 0, bottom: panel.xPad } }
        },
        y: {
          type: 'mercator',
          min: -42.1,
          max: 25.6,
          afterBuildTicks: s => { s.ticks = latTicks.map(value => ({ value })); },
          afterFit: s => { s.width = pl - left; },
          ticks: { font: tickFont, color: '#111', padding: 7, autoSkip: false, callback: minusLabel },
          grid,
          border: { display: false },
          title: { display: true, text: 'Latitude', color: '#111', font: tickFont, padding: { top: 7, bottom: 0 } }
        }
      }
    },
    plugins: [panelPlugin(panel)]
  });
}

panels.forEach(buildPanel);
</script>
</body>
</html>
